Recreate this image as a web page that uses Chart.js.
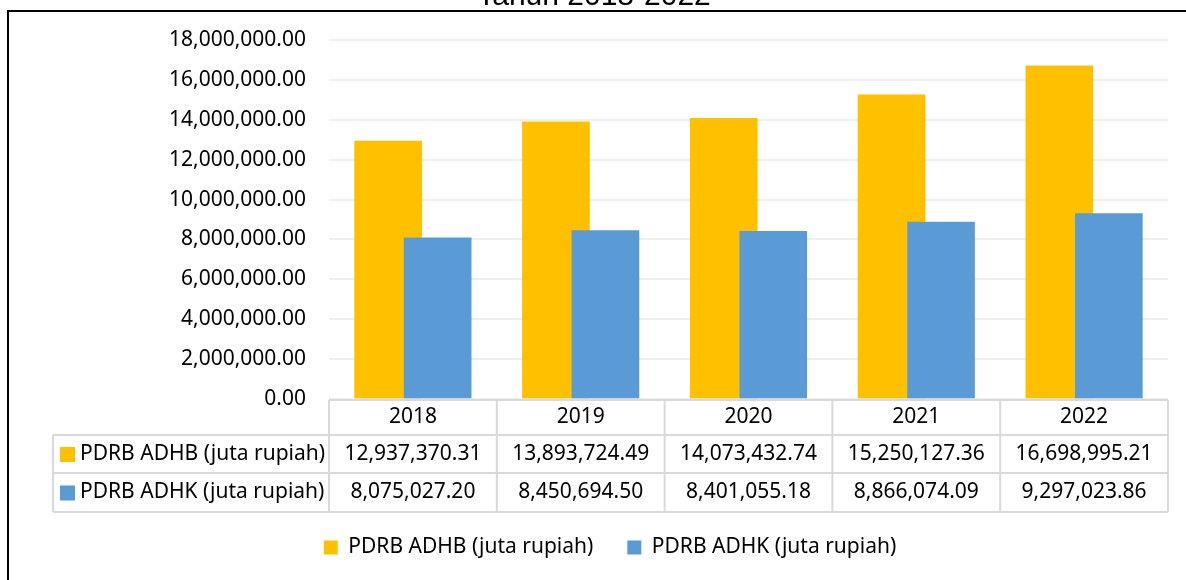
<!DOCTYPE html>
<html>
<head>
<meta charset="utf-8">
<script src="https://cdn.jsdelivr.net/npm/chart.js@4.4.1/dist/chart.umd.min.js"></script>
<style>
  html, body { margin: 0; padding: 0; background: #fff; }
  #wrap { position: relative; width: 1186px; height: 580px; }
</style>
</head>
<body>
<div id="wrap"><canvas id="pdrb"></canvas></div>
<script>
const years = ['2018', '2019', '2020', '2021', '2022'];
const adhb = [12937370.31, 13893724.49, 14073432.74, 15250127.36, 16698995.21];
const adhk = [8075027.20, 8450694.50, 8401055.18, 8866074.09, 9297023.86];
const seriesNames = ['PDRB ADHB (juta rupiah)', 'PDRB ADHK (juta rupiah)'];
const seriesColors = ['#FFC000', '#5B9BD5'];
const titleText = 'Tahun 2018-2022';

const FONT = '"Noto Sans", sans-serif';

function fmt(v) {
  return v.toLocaleString('en-US', { minimumFractionDigits: 2, maximumFractionDigits: 2 });
}

// excel style overlapping bars: shift each series a bit from the category centre
const overlapBars = {
  id: 'overlapBars',
  afterDatasetsUpdate(chart) {
    const shift = [-24.75, 24.75];
    chart.data.datasets.forEach((ds, i) => {
      chart.getDatasetMeta(i).data.forEach(bar => { bar.x += shift[i]; });
    });
  }
};

const frameAndTitle = {
  id: 'frameAndTitle',
  beforeDraw(chart) {
    const ctx = chart.ctx;
    ctx.save();
    ctx.fillStyle = '#fff';
    ctx.fillRect(0, 0, chart.width, chart.height);
    ctx.strokeStyle = '#000';
    ctx.lineWidth = 2;
    ctx.beginPath();
    ctx.moveTo(8, chart.height);
    ctx.lineTo(8, 11);
    ctx.lineTo(chart.width, 11);
    ctx.stroke();
    ctx.fillStyle = '#000';
    ctx.font = '30px "Liberation Sans", Arial, sans-serif';
    ctx.textAlign = 'center';
    ctx.textBaseline = 'alphabetic';
    ctx.fillText(titleText, 594, 5);
    ctx.restore();
  }
};

// data table under the plot, columns follow the x scale
const dataTable = {
  id: 'dataTable',
  afterDraw(chart) {
    const ctx = chart.ctx;
    const x = chart.scales.x;
    const b = chart.chartArea.bottom;
    const colW = x.width / years.length;
    const tableLeft = 53;
    const rows = [b + 1, b + 36, b + 74, b + 113];
    ctx.save();
    ctx.strokeStyle = '#d9d9d9';
    ctx.lineWidth = 2;
    ctx.beginPath();
    ctx.moveTo(x.left, rows[0]); ctx.lineTo(x.right, rows[0]);
    for (let r = 1; r < rows.length; r++) {
      ctx.moveTo(tableLeft, rows[r]); ctx.lineTo(x.right, rows[r]);
    }
    for (let c = 0; c <= years.length; c++) {
      const cx = x.left + c * colW;
      ctx.moveTo(cx, rows[0]); ctx.lineTo(cx, rows[3]);
    }
    ctx.moveTo(tableLeft, rows[1]); ctx.lineTo(tableLeft, rows[3]);
    ctx.stroke();

    ctx.fillStyle = '#000';
    ctx.font = '21px ' + FONT;
    ctx.textAlign = 'center';
    ctx.textBaseline = 'middle';
    const series = [adhb, adhk];
    years.forEach((yr, i) => {
      const cx = x.getPixelForValue(i);
      ctx.fillText(yr, cx, (rows[0] + rows[1]) / 2);
      series.forEach((s, k) => {
        ctx.fillText(fmt(s[i]), cx, (rows[k + 1] + rows[k + 2]) / 2);
      });
    });
    ctx.textAlign = 'left';
    seriesNames.forEach((name, k) => {
      const cy = (rows[k + 1] + rows[k + 2]) / 2;
      ctx.fillStyle = seriesColors[k];
      ctx.fillRect(60, cy - 7, 15, 15);
      ctx.fillStyle = '#000';
      ctx.fillText(name, 80, cy);
    });
    ctx.restore();
  }
};

new Chart(document.getElementById('pdrb'), {
  type: 'bar',
  data: {
    labels: years,
    datasets: [
      // blue drawn over the orange one, like the excel original
      { label: seriesNames[0], data: adhb, backgroundColor: seriesColors[0], grouped: false, barThickness: 67, order: 2 },
      { label: seriesNames[1], data: adhk, backgroundColor: seriesColors[1], grouped: false, barThickness: 67, order: 1 }
    ]
  },
  options: {
    responsive: true,
    maintainAspectRatio: false,
    animation: false,
    events: [],
    layout: { padding: { left: 52, right: 18, top: 40, bottom: 12 } },
    plugins: {
      title: { display: false },
      tooltip: { enabled: false },
      legend: {
        position: 'bottom',
        labels: {
          boxWidth: 14,
          boxHeight: 14,
          padding: 34,
          color: '#000',
          font: { family: FONT, size: 21 },
          sort: (a, b) => a.datasetIndex - b.datasetIndex
        }
      }
    },
    scales: {
      x: {
        grid: { display: false },
        border: { display: false },
        ticks: { display: false },
        afterFit(scale) { scale.height = 104; }
      },
      y: {
        min: 0,
        max: 18000000,
        ticks: {
          stepSize: 2000000,
          padding: 23,
          color: '#000',
          font: { family: FONT, size: 21 },
          callback: v => fmt(v)
        },
        grid: { color: '#efefef', lineWidth: 2, drawTicks: false },
        border: { display: false },
        afterFit(scale) { scale.width = 277; }
      }
    }
  },
  plugins: [overlapBars, frameAndTitle, dataTable]
});
</script>
</body>
</html>
